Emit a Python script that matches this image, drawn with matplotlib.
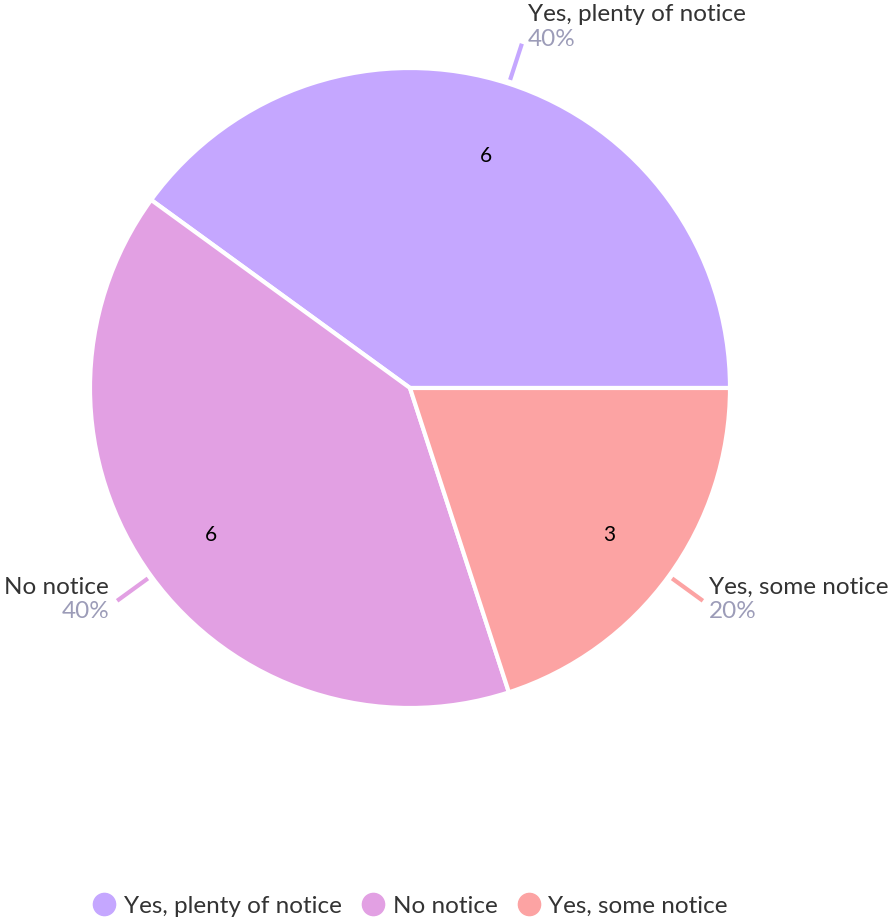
import matplotlib.pyplot as plt
from matplotlib.lines import Line2D
import numpy as np

categories = ["Yes, plenty of notice", "No notice", "Yes, some notice"]
values = [6, 6, 3]
colors = ["#C5A7FF", "#E2A0E3", "#FCA3A3"]

W, H = 891, 921
plt.rcParams['font.family'] = ['Lato', 'DejaVu Sans']
fig = plt.figure(figsize=(W / 100, H / 100), dpi=100)
ax = fig.add_axes([0, 0, 1, 1])

cx, cy, R = 410, H - 388, 320
wedges, _ = ax.pie(values, colors=colors, startangle=0, counterclock=True,
                   radius=R, center=(cx, cy), frame=True,
                   wedgeprops=dict(edgecolor='white', linewidth=3))
ax.set_xlim(0, W)
ax.set_ylim(0, H)
ax.set_aspect('equal')
ax.axis('off')

FS = 17.5
total = sum(values)
start = 0.0
for i, (cat, v) in enumerate(zip(categories, values)):
    ang = start + 360 * v / total / 2
    start += 360 * v / total
    a = np.deg2rad(ang)
    ax.text(cx + 0.77 * R * np.cos(a), cy + 0.77 * R * np.sin(a) - 2, str(v),
            ha='center', va='center', fontsize=15, color='black')
    x0, y0 = cx + (R + 4) * np.cos(a), cy + (R + 4) * np.sin(a)
    x1, y1 = cx + (R + 42) * np.cos(a), cy + (R + 42) * np.sin(a)
    ax.plot([x0, x1], [y0, y1], color=colors[i], lw=3, solid_capstyle='butt')
    pct = f"{round(100 * v / total)}%"
    if np.cos(a) >= 0:
        ha = 'left'
        tx = x1 + 6
    else:
        ha = 'right'
        tx = x1 - 8
    if np.sin(a) > 0.8:
        ny, py = H - 15, H - 40
    else:
        ny, py = H - 587, H - 612
    ax.text(tx, ny, cat, ha=ha, va='center', fontsize=FS, color='#333333')
    ax.text(tx, py, pct, ha=ha, va='center', fontsize=FS, color='#9C9CB8')

handles = [Line2D([0], [0], marker='o', linestyle='none', markersize=16,
                  markerfacecolor=c, markeredgecolor=c) for c in colors]
fig.legend(handles, categories, loc='center', bbox_to_anchor=(410 / W, 1 - 906 / H),
           ncol=3, frameon=False, fontsize=FS, handletextpad=0.3,
           columnspacing=0.8, labelcolor='#333333', handlelength=1.0)

fig.savefig('out.png', dpi=100)
